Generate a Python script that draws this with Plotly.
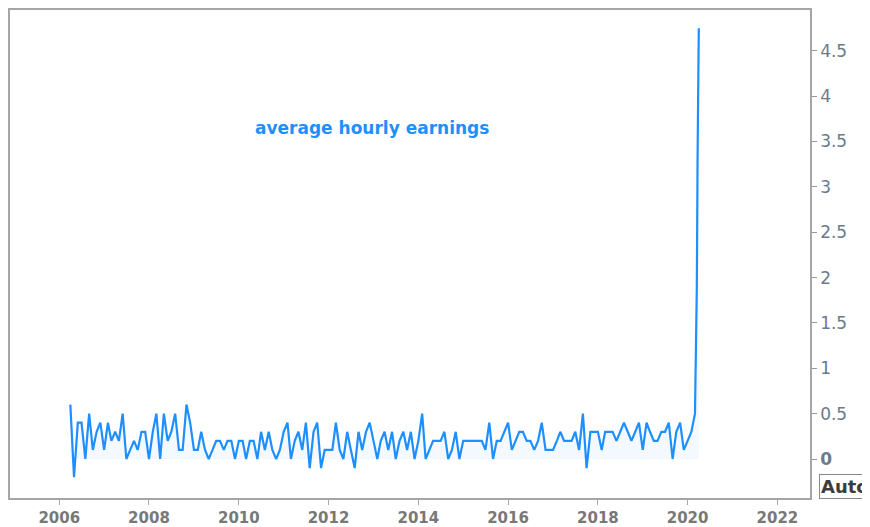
import pandas as pd
import plotly.graph_objects as go

# Monthly % change in average hourly earnings
ahe_2006 = [0.6, -0.2, 0.4, 0.4, 0.0, 0.5, 0.1, 0.3, 0.4]  # Apr-Dec
ahe_2007 = [0.1, 0.4, 0.2, 0.3, 0.2, 0.5, 0.0, 0.1, 0.2, 0.1, 0.3, 0.3]
ahe_2008 = [0.0, 0.3, 0.5, 0.0, 0.5, 0.2, 0.3, 0.5, 0.1, 0.1, 0.6, 0.4]
ahe_2009 = [0.1, 0.1, 0.3, 0.1, 0.0, 0.1, 0.2, 0.2, 0.1, 0.2, 0.2, 0.0]
ahe_2010 = [0.2, 0.2, 0.0, 0.2, 0.2, 0.0, 0.3, 0.1, 0.3, 0.1, 0.0, 0.1]
ahe_2011 = [0.3, 0.4, 0.0, 0.2, 0.3, 0.1, 0.4, -0.1, 0.3, 0.4, -0.1, 0.1]
ahe_2012 = [0.1, 0.1, 0.4, 0.1, 0.0, 0.3, 0.1, -0.1, 0.3, 0.1, 0.3, 0.4]
ahe_2013 = [0.2, 0.0, 0.2, 0.3, 0.1, 0.3, 0.0, 0.2, 0.3, 0.1, 0.3, 0.0]
ahe_2014 = [0.2, 0.5, 0.0, 0.1, 0.2, 0.2, 0.2, 0.3, 0.0, 0.1, 0.3, 0.0]
ahe_2015 = [0.2, 0.2, 0.2, 0.2, 0.2, 0.2, 0.1, 0.4, 0.0, 0.2, 0.2, 0.3]
ahe_2016 = [0.4, 0.1, 0.2, 0.3, 0.3, 0.2, 0.2, 0.1, 0.2, 0.4, 0.1, 0.1]
ahe_2017 = [0.1, 0.2, 0.3, 0.2, 0.2, 0.2, 0.3, 0.1, 0.5, -0.1, 0.3, 0.3]
ahe_2018 = [0.3, 0.1, 0.3, 0.3, 0.3, 0.2, 0.3, 0.4, 0.3, 0.2, 0.3, 0.4]
ahe_2019 = [0.1, 0.4, 0.3, 0.2, 0.2, 0.3, 0.3, 0.4, 0.0, 0.3, 0.4, 0.1]
ahe_2020 = [0.2, 0.3, 0.5]  # Jan-Mar

spike_dates = ["2020-03-16", "2020-03-22", "2020-04-01"]
spike_values = [1.9, 3.3, 4.75]

y_ticks = [0, 0.5, 1, 1.5, 2, 2.5, 3, 3.5, 4, 4.5]
y_tick_text = ["<b>0</b>", "0.5", "1", "1.5", "2", "2.5", "3", "3.5", "4", "4.5"]
x_ticks = [str(y) for y in range(2006, 2023, 2)]

monthly = (ahe_2006 + ahe_2007 + ahe_2008 + ahe_2009 + ahe_2010 + ahe_2011 +
           ahe_2012 + ahe_2013 + ahe_2014 + ahe_2015 + ahe_2016 + ahe_2017 +
           ahe_2018 + ahe_2019 + ahe_2020)
monthly_dates = pd.date_range("2006-04-01", periods=len(monthly), freq="MS")

dates = list(monthly_dates.strftime("%Y-%m-%d")) + spike_dates
values = monthly + spike_values

line_color = "#1e8fff"

fig = go.Figure()
fig.add_trace(go.Scatter(
    x=dates, y=values, mode="lines",
    line=dict(color=line_color, width=2.2),
    fill="tozeroy", fillcolor="rgba(30,143,255,0.05)",
    showlegend=False,
))

fig.update_layout(
    width=862, height=519,
    margin=dict(l=0, r=60, t=2, b=29),
    paper_bgcolor="white", plot_bgcolor="white",
    font=dict(family="DejaVu Sans", color="#777"),
    xaxis=dict(
        type="date",
        range=["2004-11-26", "2022-09-23"],
        tickvals=[f"{y}-01-01" for y in x_ticks],
        ticktext=[f"<b>{t}</b>" for t in x_ticks],
        ticks="outside", ticklen=5, tickcolor="#aaa",
        tickfont=dict(size=15, color="#787878", family="DejaVu Sans"),
        showgrid=False, zeroline=False,
        showline=True, linecolor="#a6a6a6", linewidth=1.5, mirror=True,
    ),
    yaxis=dict(
        side="right",
        range=[-0.43, 4.95],
        tickvals=y_ticks, ticktext=y_tick_text,
        ticks="outside", ticklen=5, tickcolor="#999",
        tickfont=dict(size=17, color="#6b7a8c", family="DejaVu Sans"),
        showgrid=False, zeroline=False,
        showline=True, linecolor="#a6a6a6", linewidth=1.5, mirror=True,
    ),
    annotations=[
        dict(text="<b>average hourly earnings</b>", xref="paper", yref="paper",
             x=0.4526, y=0.758, xanchor="center", yanchor="middle",
             showarrow=False, font=dict(size=17, color=line_color, family="DejaVu Sans")),
        dict(text="<b>Auto</b>", xref="paper", yref="paper",
             x=1.0112, y=0.023, xanchor="left", yanchor="middle",
             showarrow=False, bordercolor="#888", borderwidth=1, borderpad=1,
             bgcolor="white",
             font=dict(size=18, color="#3c3c3c", family="DejaVu Sans")),
    ],
)

fig.write_html("out.html")
